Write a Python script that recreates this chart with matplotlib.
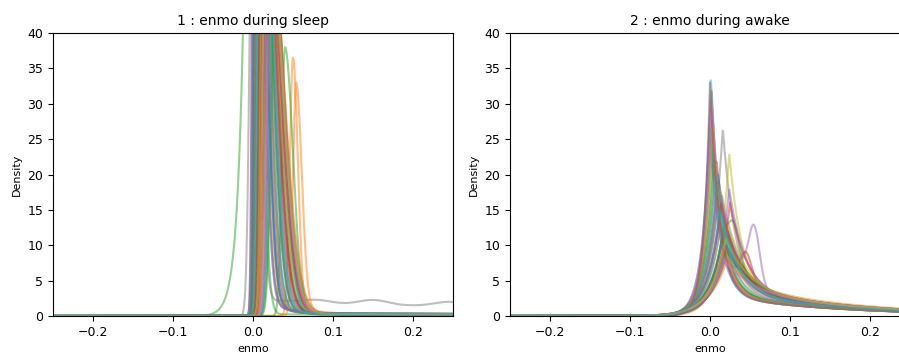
import numpy as np
import matplotlib.pyplot as plt

# per-night density curves
# sleep: peak location, peak height, left/right spread, shoulder and floor level
sleep_center = [0.004, 0.050, -0.002, 0.010, 0.015, 0.002, 0.020, 0.000, 0.025, 0.006,
                0.012, 0.054, 0.040, 0.008, 0.018, 0.003, 0.022, 0.001, 0.014, 0.009,
                0.005, 0.016, 0.027, 0.011, 0.007, 0.019, 0.024, 0.013, 0.002, 0.021,
                0.017, 0.006, 0.028, 0.010, 0.004, 0.023, 0.015, 0.008, 0.012, 0.026,
                0.003, 0.019, 0.007, 0.014, 0.001, 0.011, 0.022, 0.005, 0.016, 0.009]
sleep_peak = [80, 36.5, 150, 70, 60, 95, 55, 70, 50, 85,
              75, 33, 38, 80, 60, 100, 52, 90, 65, 78,
              85, 58, 48, 70, 82, 56, 50, 68, 98, 54,
              62, 88, 46, 72, 92, 53, 60, 76, 68, 47,
              96, 57, 80, 64, 100, 74, 52, 88, 60, 75]
sleep_left = [0.003, 0.004, 0.008, 0.003, 0.004, 0.002, 0.004, 0.004, 0.005, 0.003,
              0.003, 0.004, 0.004, 0.003, 0.004, 0.002, 0.004, 0.002, 0.003, 0.003,
              0.002, 0.004, 0.005, 0.003, 0.003, 0.004, 0.005, 0.003, 0.002, 0.004,
              0.004, 0.002, 0.005, 0.003, 0.002, 0.004, 0.003, 0.003, 0.003, 0.005,
              0.002, 0.004, 0.003, 0.003, 0.002, 0.003, 0.004, 0.002, 0.004, 0.003]
sleep_right = [0.012, 0.006, 0.009, 0.015, 0.017, 0.010, 0.016, 0.008, 0.015, 0.013,
               0.016, 0.007, 0.010, 0.014, 0.018, 0.011, 0.015, 0.010, 0.017, 0.014,
               0.013, 0.018, 0.013, 0.016, 0.014, 0.017, 0.015, 0.017, 0.011, 0.016,
               0.019, 0.012, 0.012, 0.016, 0.011, 0.015, 0.018, 0.015, 0.017, 0.013,
               0.011, 0.019, 0.014, 0.018, 0.010, 0.016, 0.016, 0.012, 0.019, 0.015]
sleep_shoulder = [3, 1, 0.5, 4, 2, 5, 2, 4, 1, 3,
                  2, 2, 1, 3, 2, 4, 1.5, 5, 2, 3,
                  4, 2, 1, 3, 3, 2, 1, 2.5, 4.5, 1.5,
                  2, 3.5, 1, 2.5, 4, 1.5, 2, 3, 2.5, 1,
                  4, 2, 3, 2.5, 5, 3, 1.5, 3.5, 2, 3]
sleep_floor = [0.3, 0.3, 0.2, 0.4, 0.3, 0.3, 0.3, 1.9, 0.3, 0.3,
               0.4, 0.3, 0.2, 0.3, 0.3, 0.4, 0.3, 0.3, 0.3, 0.4,
               0.3, 0.3, 0.2, 0.3, 0.3, 0.3, 0.2, 0.3, 0.4, 0.3,
               0.3, 0.3, 0.2, 0.3, 0.4, 0.3, 0.3, 0.3, 0.3, 0.2,
               0.4, 0.3, 0.3, 0.3, 0.4, 0.3, 0.3, 0.3, 0.3, 0.3]
# wavy tail of the grey sleep curve
gray_wave_x = [0.08, 0.15, 0.245]
gray_wave_h = [0.5, 0.7, 0.6]

# awake: peak location, height, left/right spread and long right tail level
awake_center = [0.000, 0.018, 0.020, 0.002, 0.015, 0.008, 0.001, 0.016, 0.024, 0.000,
                0.010, 0.020, 0.004, 0.019, 0.014, 0.022, 0.003, 0.018, 0.012, 0.001,
                0.021, 0.006, 0.017, 0.025, 0.000, 0.013, 0.019, 0.009, 0.023, 0.002,
                0.016, 0.020, 0.005, 0.018, 0.011, 0.022, 0.001, 0.015, 0.019, 0.007,
                0.021, 0.003, 0.017, 0.014, 0.024, 0.000, 0.018, 0.010, 0.020, 0.012]
awake_peak = [28, 12, 9, 32, 17, 22, 30, 26.5, 23, 27,
              20, 10, 24, 8, 14, 11, 29, 13, 18, 34,
              9, 21, 12, 16, 25, 15, 8.5, 19, 13, 26,
              11, 7.5, 22, 10, 17, 12, 31, 14, 9, 20,
              10, 27, 12.5, 16, 18, 33, 8, 19, 11, 15]
awake_left = [0.010, 0.018, 0.020, 0.009, 0.016, 0.013, 0.010, 0.014, 0.013, 0.009,
              0.014, 0.019, 0.011, 0.021, 0.016, 0.018, 0.010, 0.017, 0.015, 0.008,
              0.020, 0.013, 0.017, 0.016, 0.010, 0.016, 0.021, 0.014, 0.017, 0.010,
              0.018, 0.022, 0.012, 0.019, 0.015, 0.017, 0.009, 0.016, 0.020, 0.013,
              0.019, 0.010, 0.017, 0.016, 0.015, 0.008, 0.021, 0.014, 0.019, 0.015]
awake_right = [0.013, 0.026, 0.030, 0.012, 0.022, 0.018, 0.013, 0.016, 0.016, 0.013,
               0.019, 0.028, 0.015, 0.030, 0.023, 0.027, 0.013, 0.025, 0.020, 0.011,
               0.028, 0.017, 0.025, 0.021, 0.013, 0.023, 0.030, 0.019, 0.025, 0.013,
               0.027, 0.032, 0.015, 0.027, 0.020, 0.025, 0.012, 0.023, 0.028, 0.017,
               0.027, 0.013, 0.025, 0.022, 0.020, 0.012, 0.030, 0.019, 0.027, 0.022]
awake_tail = [3.5, 3.5, 3, 3.5, 3.5, 3, 3.5, 3, 3.5, 3,
              3.5, 4, 3, 4, 3.5, 3.5, 3, 4, 3.5, 3,
              4, 3, 3.5, 3.5, 3, 3.5, 4, 3.5, 3.5, 3,
              4, 4.5, 3, 4, 3.5, 3.5, 3, 3.5, 4, 3,
              4, 3, 3.5, 3.5, 3.5, 3, 4, 3.5, 4, 3.5]
# extra bumps on a few awake curves
awake_bump_curve = [4, 13, 22]
awake_bump_x = [0.055, 0.045, 0.030]
awake_bump_h = [8, 4, 5]

x = np.linspace(-0.25, 0.25, 1201)


def sleep_curve(i):
    d = x - sleep_center[i]
    if i == 2:
        left = sleep_peak[i] * np.exp(np.minimum(d, 0) / sleep_left[i])
    else:
        left = sleep_peak[i] * np.exp(-0.5 * (d / sleep_left[i]) ** 2)
    right = ((sleep_peak[i] - sleep_shoulder[i]) * np.exp(-0.5 * (d / sleep_right[i]) ** 2)
             + sleep_shoulder[i] * np.exp(-np.abs(d) / 0.02))
    y = np.where(d < 0, left, right)
    floor = sleep_floor[i] * np.exp(-np.abs(d) / 0.8) * (1 - np.exp(-0.5 * (d / 0.02) ** 2))
    y = y + np.where(d > 0, floor, 0)
    if i == 7:
        for wx, wh in zip(gray_wave_x, gray_wave_h):
            y = y + wh * np.exp(-0.5 * ((x - wx) / 0.018) ** 2)
    return y


def awake_curve(i):
    d = x - awake_center[i]
    h = awake_peak[i]
    t = awake_tail[i]
    left = h * np.exp(np.minimum(d, 0) / awake_left[i])
    right = ((h - t) * np.exp(-np.maximum(d, 0) / awake_right[i])
             + t * np.exp(-np.maximum(d, 0) / 0.15))
    y = np.where(d < 0, left, right)
    for c, bx, bh in zip(awake_bump_curve, awake_bump_x, awake_bump_h):
        if c == i:
            y = y + bh * np.exp(-0.5 * ((x - bx) / 0.007) ** 2)
    return y


def style_axes(ax, title):
    ax.set_xlim(-0.25, 0.25)
    ax.set_ylim(0, 40)
    ax.set_title(title, fontsize=10)
    ax.set_xlabel("enmo", fontsize=8)
    ax.set_ylabel("Density", fontsize=8)
    ax.tick_params(labelsize=9)


fig = plt.figure(figsize=(8.99, 3.56), dpi=100)
ax1 = fig.add_axes([53 / 899, 40 / 356, 400 / 899, 283 / 356])
ax2 = fig.add_axes([510 / 899, 40 / 356, 400 / 899, 283 / 356])

for i in range(len(sleep_center)):
    ax1.plot(x, sleep_curve(i), color=f"C{i % 10}", alpha=0.5, lw=1.5)
for i in range(len(awake_center)):
    ax2.plot(x, awake_curve(i), color=f"C{i % 10}", alpha=0.5, lw=1.5)

style_axes(ax1, "1 : enmo during sleep")
style_axes(ax2, "2 : enmo during awake")

fig.savefig("out.png", dpi=100)
